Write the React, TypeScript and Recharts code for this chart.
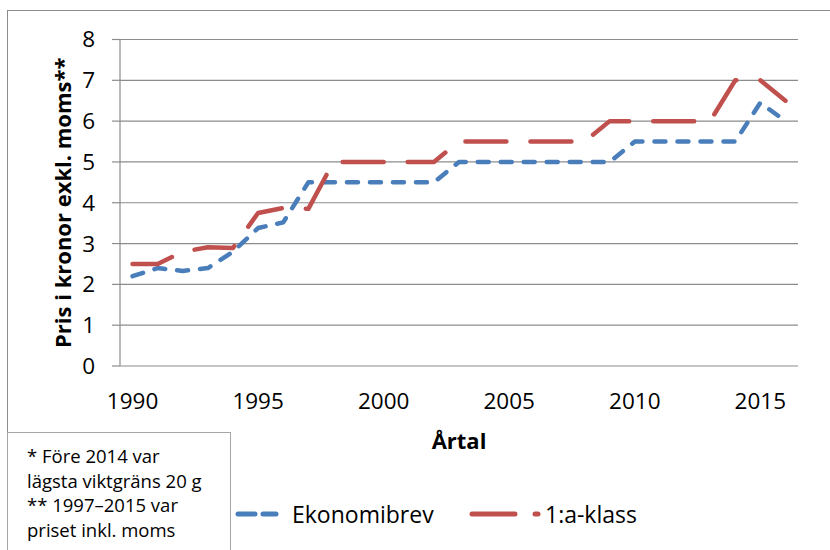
import React from "react";
import { LineChart, Line, XAxis, YAxis, CartesianGrid, Label } from "recharts";

const years = [
  1990, 1991, 1992, 1993, 1994, 1995, 1996, 1997, 1998, 1999, 2000, 2001, 2002, 2003,
  2004, 2005, 2006, 2007, 2008, 2009, 2010, 2011, 2012, 2013, 2014, 2015, 2016,
];
const ekonomibrev = [
  2.2, 2.4, 2.33, 2.4, 2.8, 3.38, 3.52, 4.5, 4.5, 4.5, 4.5, 4.5, 4.5, 5, 5, 5, 5, 5, 5, 5,
  5.5, 5.5, 5.5, 5.5, 5.5, 6.45, 6,
];
const forstaKlass = [
  2.5, 2.5, 2.8, 2.91, 2.89, 3.75, 3.87, 3.85, 5, 5, 5, 5, 5, 5.5, 5.5, 5.5, 5.5, 5.5, 5.5,
  6, 6, 6, 6, 6, 7, 7, 6.5,
];
const yearLabels = [1990, 1995, 2000, 2005, 2010, 2015];
const yTicks = [0, 1, 2, 3, 4, 5, 6, 7, 8];
const noteLines = [
  "* Före 2014 var",
  "lägsta viktgräns 20 g",
  "** 1997–2015 var",
  "priset inkl. moms",
];

const series = [
  {
    key: "ekonomibrev",
    name: "Ekonomibrev",
    color: "#4a7ebb",
    dash: "11 12",
    legend: { left: 234, width: 48, x2: 42, dash: "17 8", textLeft: 292 },
  },
  {
    key: "forsta",
    name: "1:a-klass",
    color: "#c0504d",
    dash: "41 24",
    legend: { left: 468, width: 76, x2: 70, dash: "43 20", textLeft: 545 },
  },
];

const data = years.map((year, i) => ({
  year,
  ekonomibrev: ekonomibrev[i],
  forsta: forstaKlass[i],
}));

// tick marks sit between categories, labels on category centres
const tickMarks = yearLabels.map((y) => y - 0.5);

const FONT = '"Open Sans", sans-serif';
const GRID = "#8c8c8c";

export default function App() {
  return (
    <div
      style={{
        position: "absolute",
        left: 0,
        top: 0,
        width: 830,
        height: 550,
        overflow: "hidden",
        background: "#fff",
        fontFamily: FONT,
      }}
    >
      <div
        style={{
          position: "absolute",
          left: 7,
          top: 10,
          width: 900,
          height: 700,
          border: `1px solid ${GRID}`,
        }}
      />
      <div style={{ position: "absolute", left: 0, top: 0 }}>
        <LineChart
          width={830}
          height={550}
          data={data}
          margin={{ top: 39.5, right: 32, left: 0, bottom: 96 }}
        >
          <CartesianGrid xAxisId="ticks" vertical={false} stroke={GRID} strokeWidth={1.2} />
          <XAxis
            xAxisId="ticks"
            dataKey="year"
            type="number"
            domain={[1989.5, 2016.5]}
            allowDataOverflow
            ticks={tickMarks}
            tick={false}
            tickSize={7}
            height={0}
            axisLine={{ stroke: GRID, strokeWidth: 1.2 }}
            tickLine={{ stroke: GRID, strokeWidth: 1.2 }}
          />
          <XAxis
            xAxisId="labels"
            dataKey="year"
            type="number"
            domain={[1989.5, 2016.5]}
            allowDataOverflow
            ticks={yearLabels}
            tickLine={false}
            axisLine={false}
            tickSize={8}
            tickMargin={19}
            height={88}
            tick={{ fontSize: 22.5, fill: "#000", fontFamily: FONT }}
          >
            <Label
              value="Årtal"
              position="insideBottom"
              offset={5}
              style={{ fontSize: 22, fontWeight: 700, fill: "#000", fontFamily: FONT }}
            />
          </XAxis>
          <YAxis
            domain={[0, 8]}
            ticks={yTicks}
            width={120}
            tickSize={8}
            tickMargin={17}
            axisLine={{ stroke: GRID, strokeWidth: 1.2 }}
            tickLine={{ stroke: GRID, strokeWidth: 1.2 }}
            tick={{ fontSize: 22.5, fill: "#000", fontFamily: FONT }}
          >
            <Label
              value="Pris i kronor exkl. moms**"
              angle={-90}
              position="center"
              dx={3}
              style={{ fontSize: 22, fontWeight: 700, fill: "#000", fontFamily: FONT }}
            />
          </YAxis>
          {series.map((s) => (
            <Line
              key={s.key}
              xAxisId="ticks"
              dataKey={s.key}
              name={s.name}
              type="linear"
              stroke={s.color}
              strokeWidth={4.5}
              strokeDasharray={s.dash}
              strokeLinecap="round"
              strokeLinejoin="round"
              dot={false}
              activeDot={false}
              isAnimationActive={false}
            />
          ))}
        </LineChart>
      </div>

      <div
        style={{
          position: "absolute",
          left: 7,
          top: 432,
          width: 224,
          height: 200,
          border: `1px solid #a6a6a6`,
          background: "#fff",
          boxSizing: "border-box",
          padding: "11px 0 0 19px",
          fontSize: 18.5,
          lineHeight: "24.5px",
          color: "#000",
        }}
      >
        {noteLines.map((t) => (
          <div key={t} style={{ whiteSpace: "nowrap" }}>
            {t}
          </div>
        ))}
      </div>

      {series.map((s) => (
        <React.Fragment key={s.key}>
          <svg
            width={s.legend.width}
            height={10}
            style={{ position: "absolute", left: s.legend.left, top: 509 }}
          >
            <line
              x1={4}
              y1={5}
              x2={s.legend.x2}
              y2={5}
              stroke={s.color}
              strokeWidth={5}
              strokeLinecap="round"
              strokeDasharray={s.legend.dash}
            />
          </svg>
          <span
            style={{
              position: "absolute",
              left: s.legend.textLeft,
              top: 498,
              fontSize: 23,
              lineHeight: "32px",
              color: "#000",
              whiteSpace: "nowrap",
            }}
          >
            {s.name}
          </span>
        </React.Fragment>
      ))}
    </div>
  );
}
